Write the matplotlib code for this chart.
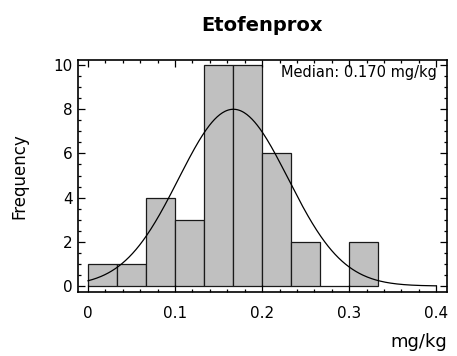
import numpy as np
import matplotlib
matplotlib.use("Agg")
import matplotlib.pyplot as plt
from matplotlib.ticker import MultipleLocator

# Data
bin_edges = [0.0, 1/30, 2/30, 3/30, 4/30, 5/30, 6/30, 7/30, 8/30, 9/30, 10/30]
counts = [1, 1, 4, 3, 10, 10, 6, 2, 0, 2]
curve_mean = 0.167
curve_sd = 0.063
curve_peak = 8.0
title = "Etofenprox"
median_label = "Median: 0.170 mg/kg"
x_ticks = [0, 0.1, 0.2, 0.3, 0.4]
x_tick_labels = ["0", "0.1", "0.2", "0.3", "0.4"]
y_ticks = [0, 2, 4, 6, 8, 10]

plt.rcParams['font.family'] = ['DejaVu Sans']

fig = plt.figure(figsize=(4.57, 3.56), dpi=100)
ax = fig.add_axes([0.1707, 0.1798, 0.8073, 0.6517])

edges = np.array(bin_edges)
ax.bar(edges[:-1], counts, width=np.diff(edges), align='edge',
       color='#c0c0c0', edgecolor='#1a1a1a', linewidth=0.9)

xs = np.linspace(0, 0.4, 400)
ys = curve_peak * np.exp(-(xs - curve_mean) ** 2 / (2 * curve_sd ** 2))
ax.plot(xs, ys, color='black', linewidth=0.9)

ax.set_xlim(-0.0115, 0.4123)
ax.set_ylim(-0.27, 10.23)
ax.set_xticks(x_ticks)
ax.set_xticklabels(x_tick_labels)
ax.set_yticks(y_ticks)
ax.xaxis.set_minor_locator(MultipleLocator(0.02))
ax.yaxis.set_minor_locator(MultipleLocator(0.5))
ax.tick_params(which='both', direction='in', top=True, right=True,
               labelsize=11, width=0.9)
ax.tick_params(axis='x', which='major', pad=10)
ax.tick_params(axis='y', which='major', pad=4)
ax.tick_params(which='major', length=5)
ax.tick_params(which='minor', length=2.5)
for s in ax.spines.values():
    s.set_linewidth(1.2)

ax.text(0.973, 0.944, median_label, transform=ax.transAxes,
        ha='right', va='center', fontsize=10.5)

fig.text(0.573, 0.928, title, ha='center', va='center', fontsize=14, fontweight='bold')
ax.set_ylabel("Frequency", fontsize=12)
ax.yaxis.set_label_coords(-0.135, 0.5)
ax.set_xlabel("mg/kg", fontsize=13)
ax.xaxis.set_label_coords(1.0, -0.175)
ax.xaxis.label.set_ha('right')

fig.savefig("out.png", dpi=100)
